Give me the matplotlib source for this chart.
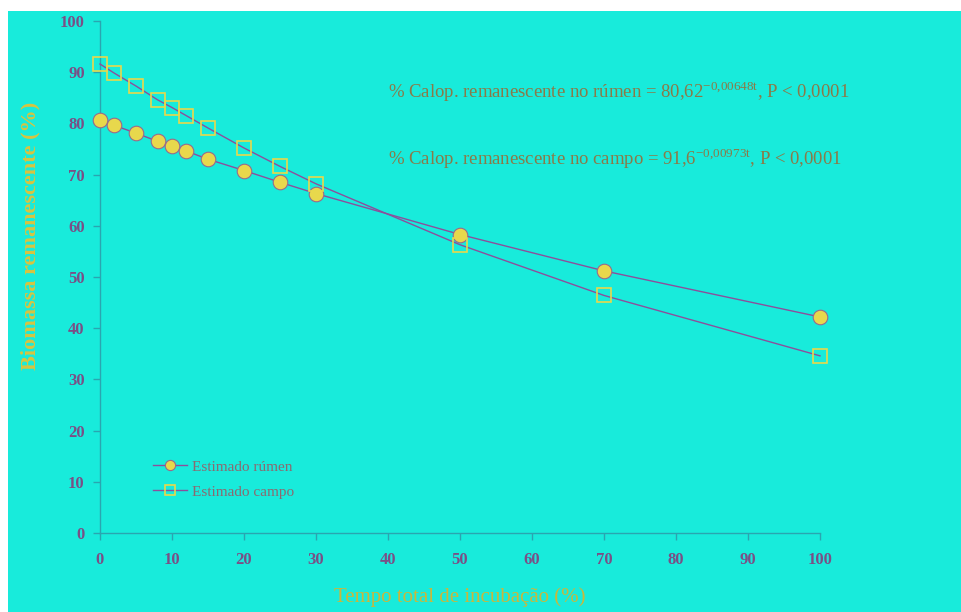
import matplotlib
matplotlib.use("Agg")
import matplotlib.pyplot as plt
from matplotlib.patches import Rectangle

# data
tempo = [0, 2, 5, 8, 10, 12, 15, 20, 25, 30, 50, 70, 100]
rumen = [80.6, 79.6, 78.1, 76.5, 75.5, 74.6, 73.0, 70.8, 68.5, 66.3, 58.3, 51.2, 42.2]
campo = [91.6, 89.8, 87.3, 84.6, 83.1, 81.5, 79.1, 75.2, 71.6, 68.2, 56.3, 46.4, 34.6]
ticks = [0, 10, 20, 30, 40, 50, 60, 70, 80, 90, 100]

plt.rcParams['font.family'] = ['Liberation Serif', 'DejaVu Serif']
plt.rcParams['mathtext.fontset'] = 'custom'
plt.rcParams['mathtext.rm'] = 'Liberation Serif'

bg = '#18ebdb'
axis_col = '#2aa5b0'
tick_col = '#7a4f86'
line_col = '#8c4f9c'
yellow = '#e8d84c'

fig = plt.figure(figsize=(9.61, 6.12), dpi=100)
fig.patch.set_facecolor('white')
fig.patches.append(Rectangle((8 / 961, 0), 1, 1 - 11 / 612, transform=fig.transFigure,
                             facecolor=bg, edgecolor='none', zorder=-10))

ax = fig.add_axes([100 / 961, 79 / 612, 720 / 961, 512 / 612])
ax.set_facecolor('none')

ax.plot(tempo, rumen, color=line_col, lw=1, marker='o', ms=10.5, mfc=yellow,
        mec='#9a6a8a', mew=0.8, label='Estimado rúmen', clip_on=False, zorder=3)
ax.plot(tempo, campo, color=line_col, lw=1, marker='s', ms=10.5, mfc='none',
        mec=yellow, mew=1.2, label='Estimado campo', clip_on=False, zorder=3)

ax.set_xlim(0, 100)
ax.set_ylim(0, 100)
ax.set_xticks(ticks)
ax.set_yticks(ticks)
for s in ['top', 'right']:
    ax.spines[s].set_visible(False)
for s in ['left', 'bottom']:
    ax.spines[s].set_color(axis_col)
    ax.spines[s].set_linewidth(1)
ax.tick_params(colors=axis_col, length=5, width=1, labelsize=12, labelcolor=tick_col)
ax.tick_params(axis='x', pad=9)
ax.tick_params(axis='y', pad=6)
for lab in ax.get_xticklabels() + ax.get_yticklabels():
    lab.set_fontweight('bold')

ax.set_xlabel('Tempo total de incubação (%)', fontsize=15, color='#c8b83c')
ax.set_ylabel('Biomassa remanescente (%)', fontsize=16, color='#d8c440', fontweight='bold')
ax.xaxis.set_label_coords(0.5, -64 / 512)
ax.yaxis.set_label_coords(-70 / 720, 0.58)
ax.xaxis.label.set_va('center')
ax.yaxis.label.set_va('center')

ann_col = '#8a7a48'
ax.text(40, 86.3, r'% Calop. remanescente no rúmen = 80,62$^{\mathrm{-0{,}00648t}}$, P < 0,0001',
        fontsize=13.5, color=ann_col, va='center')
ax.text(40, 73.2, r'% Calop. remanescente no campo = 91,6$^{\mathrm{-0{,}00973t}}$, P < 0,0001',
        fontsize=13.5, color=ann_col, va='center')

leg = ax.legend(loc='lower left', bbox_to_anchor=(0.055, 0.04), frameon=False,
                fontsize=11, markerscale=0.7, handlelength=2.2, labelspacing=0.75,
                handletextpad=0.3)
for t in leg.get_texts():
    t.set_color('#8a6a70')

fig.savefig('out.png', dpi=100, facecolor=fig.get_facecolor())
